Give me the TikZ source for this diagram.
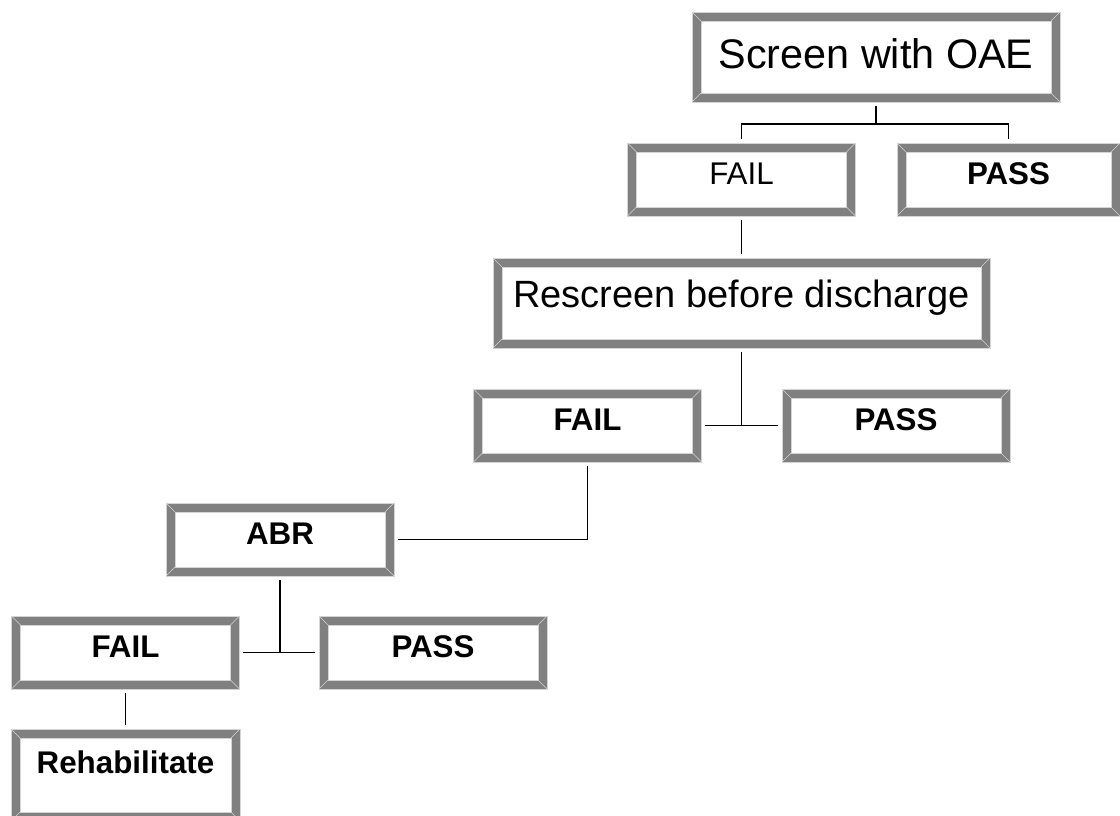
\documentclass[tikz,border=0pt]{standalone}
\usepackage{fontspec}
\setmainfont{Liberation Sans}
\usetikzlibrary{positioning, calc}
\definecolor{bevelgrey}{HTML}{808080}
\definecolor{bevellight}{HTML}{D4D4D4}
\tikzset{
    bevel/.style={rectangle, draw=bevellight, line width=0.5pt, inner sep=0pt,
        minimum width=171pt, minimum height=54.75pt,
        text height=16.8pt, text depth=10pt,
        font=\fontsize{23.5}{28}\selectfont,
        path picture={
            \path (path picture bounding box.south west) coordinate (bsw)
                  (path picture bounding box.north east) coordinate (bne)
                  (path picture bounding box.north west) coordinate (bnw)
                  (path picture bounding box.south east) coordinate (bse);
            \fill[bevelgrey] (bsw) rectangle (bne);
            \fill[white] ([shift={(6.75pt,6.75pt)}]bsw) rectangle ([shift={(-6.75pt,-6.75pt)}]bne);
            \draw[bevellight, line width=0.5pt] ([shift={(6.75pt,6.75pt)}]bsw) rectangle ([shift={(-6.75pt,-6.75pt)}]bne);
            \draw[bevellight, line width=0.5pt] (bsw) -- ++(6.75pt,6.75pt) (bne) -- ++(-6.75pt,-6.75pt)
                (bnw) -- ++(6.75pt,-6.75pt) (bse) -- ++(-6.75pt,6.75pt);
        }},
    bigbevel/.style={bevel, minimum height=67.5pt, text height=20.5pt,
        font=\fontsize{28.5}{34}\selectfont},
    conn/.style={line width=1.1pt},
    trimmed/.style={shorten <=2.5pt, shorten >=2.5pt}
}
\begin{document}
\begin{tikzpicture}[x=0.75pt, y=-0.75pt]
    \useasboundingbox (0,0) rectangle (1120,816);

    \node[bigbevel, minimum width=276pt, text height=22pt, text depth=5.25pt,
        font=\fontsize{31}{37}\selectfont] (screen) at (876,57) {Screen with OAE};
    \node[bevel] (fail1) at (741.5,179.5) {FAIL};
    \node[bevel, minimum width=167.25pt] (pass1) at (1008.5,179.5) {\textbf{PASS}};
    \node[bigbevel, minimum width=372.75pt, text depth=13.5pt] (rescreen) at (741.5,303) {Rescreen before discharge};
    \node[bevel] (fail2) at (587.5,425.5) {\textbf{FAIL}};
    \node[bevel] (pass2) at (896,425.5) {\textbf{PASS}};
    \node[bevel] (abr) at (280,539.5) {\textbf{ABR}};
    \node[bevel] (fail3) at (125.5,652.5) {\textbf{FAIL}};
    \node[bevel] (pass3) at (433,652.5) {\textbf{PASS}};
    \node[bevel, minimum width=171.75pt, minimum height=69pt, text depth=19.5pt] (rehab) at (125.5,775) {\textbf{Rehabilitate}};

    \coordinate (j1) at (876,124);
    \draw[conn, shorten <=2.5pt] (screen.south) -- (j1);
    \draw[conn, trimmed] (fail1.north) |- (j1) -| (pass1.north);
    \draw[conn, trimmed] (fail1.south) -- (rescreen.north);

    \coordinate (j2) at (rescreen.south |- fail2.east);
    \draw[conn, shorten <=2.5pt] (rescreen.south) -- (j2);
    \draw[conn, trimmed] (fail2.east) -- (pass2.west);
    \draw[conn, trimmed] (fail2.south) |- (abr.east);

    \coordinate (j3) at (abr.south |- fail3.east);
    \draw[conn, shorten <=2.5pt] (abr.south) -- (j3);
    \draw[conn, trimmed] (fail3.east) -- (pass3.west);
    \draw[conn, trimmed] (fail3.south) -- (rehab.north);
\end{tikzpicture}
\end{document}
